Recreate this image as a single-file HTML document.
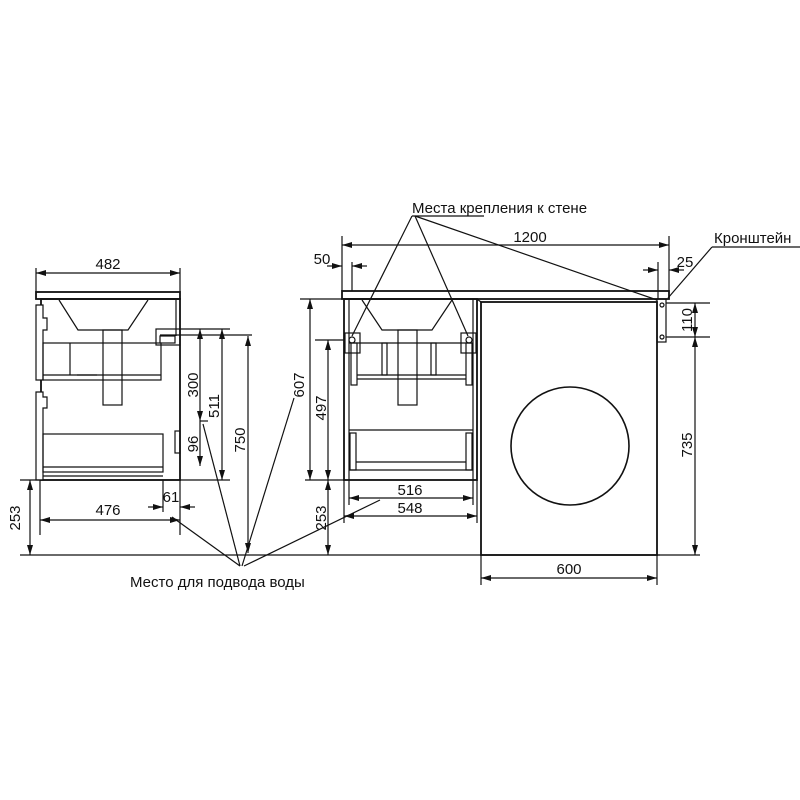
<!DOCTYPE html>
<html><head><meta charset="utf-8"><style>
html,body{margin:0;padding:0;background:#fff;}
svg{display:block}
text{font-family:"Liberation Sans","DejaVu Sans",sans-serif;font-size:15px;fill:#111}
</style></head><body>
<svg width="800" height="800" viewBox="0 0 800 800" xmlns="http://www.w3.org/2000/svg">
<defs>
<marker id="a" viewBox="0 0 10 6" refX="10" refY="3" markerWidth="10" markerHeight="6" orient="auto-start-reverse" markerUnits="userSpaceOnUse"><path d="M0,0L10,3L0,6z" fill="#111"/></marker>
</defs>
<g stroke="#111" fill="none" stroke-width="1.2">
<line x1="20" y1="555" x2="660" y2="555"/>
<!-- LEFT VIEW -->
<rect x="36" y="292" width="144" height="7" stroke-width="1.8"/>
<rect x="41" y="299" width="139" height="181" stroke-width="1.8"/>
<path d="M36,305 L43,305 L43,318 L47,318 L47,330 L43,330 L43,380 L36,380z M36,392 L43,392 L43,397 L47,397 L47,408 L43,408 L43,480 L36,480z" fill="#fff"/>
<path d="M59,300 L78,330 L128,330 L148,300"/>
<rect x="103" y="330" width="19" height="75"/>
<rect x="43" y="343" width="118" height="37"/>
<line x1="43" y1="375" x2="161" y2="375"/><line x1="70" y1="343" x2="70" y2="375"/>
<line x1="77" y1="375" x2="97" y2="375"/>
<rect x="43" y="434" width="120" height="38"/>
<line x1="43" y1="467" x2="163" y2="467"/><line x1="43" y1="476" x2="163" y2="476"/>
<rect x="156" y="329" width="24" height="16"/><rect x="160" y="336" width="15" height="7"/>
<line x1="176" y1="300" x2="176" y2="336"/>
<rect x="175" y="431" width="5" height="22"/>
<line x1="36" y1="268" x2="36" y2="292"/><line x1="180" y1="268" x2="180" y2="292"/>
<line x1="36" y1="273" x2="180" y2="273" marker-start="url(#a)" marker-end="url(#a)"/>
<line x1="180" y1="329" x2="230" y2="329"/><line x1="160" y1="335" x2="252" y2="335"/>
<line x1="200" y1="421" x2="208" y2="421"/><line x1="20" y1="480" x2="230" y2="480"/>
<line x1="200" y1="329" x2="200" y2="421" marker-start="url(#a)" marker-end="url(#a)"/>
<line x1="200" y1="466" x2="200" y2="421" marker-start="url(#a)"/>
<line x1="222" y1="329" x2="222" y2="480" marker-start="url(#a)" marker-end="url(#a)"/>
<line x1="248" y1="336" x2="248" y2="553" marker-start="url(#a)" marker-end="url(#a)"/>
<line x1="163" y1="480" x2="163" y2="512"/><line x1="180" y1="480" x2="180" y2="535"/>
<line x1="40" y1="480" x2="40" y2="535"/>
<line x1="148" y1="507" x2="163" y2="507" marker-end="url(#a)"/>
<line x1="195" y1="507" x2="180" y2="507" marker-end="url(#a)"/>
<line x1="40" y1="520" x2="180" y2="520" marker-start="url(#a)" marker-end="url(#a)"/>
<line x1="30" y1="480" x2="30" y2="555" marker-start="url(#a)" marker-end="url(#a)"/>
<!-- RIGHT VIEW -->
<rect x="342" y="291" width="327" height="8" stroke-width="1.8"/>
<rect x="344" y="299" width="133" height="181" stroke-width="1.8"/>
<line x1="349" y1="299" x2="349" y2="480"/><line x1="473" y1="299" x2="473" y2="480"/>
<path d="M362,300 L382,330 L432,330 L452,300"/>
<rect x="398" y="330" width="19" height="75"/>
<line x1="349" y1="343" x2="473" y2="343"/>
<rect x="351" y="343" width="6" height="42"/><rect x="466" y="343" width="6" height="42"/>
<rect x="382" y="343" width="5" height="32"/><rect x="431" y="343" width="5" height="32"/>
<line x1="357" y1="375" x2="466" y2="375"/><line x1="357" y1="379" x2="466" y2="379"/>
<rect x="345" y="333" width="15" height="20"/><rect x="461" y="333" width="15" height="20"/>
<circle cx="352" cy="340" r="3"/><circle cx="469" cy="340" r="3"/>
<line x1="349" y1="430" x2="473" y2="430"/>
<rect x="350" y="433" width="6" height="37"/><rect x="466" y="433" width="6" height="37"/>
<line x1="356" y1="462" x2="466" y2="462"/><line x1="349" y1="470" x2="473" y2="470"/>
<rect x="481" y="302" width="176" height="253" stroke-width="1.8"/>
<line x1="477" y1="299" x2="481" y2="302"/>
<circle cx="570" cy="446" r="59" stroke-width="1.6"/>
<rect x="657" y="299" width="9" height="43"/>
<circle cx="662" cy="305" r="2"/><circle cx="662" cy="337" r="2"/>
<line x1="342" y1="236" x2="342" y2="291"/><line x1="669" y1="236" x2="669" y2="291"/>
<line x1="342" y1="245" x2="669" y2="245" marker-start="url(#a)" marker-end="url(#a)"/>
<line x1="352" y1="262" x2="352" y2="291"/>
<line x1="327" y1="266" x2="342" y2="266" marker-end="url(#a)"/>
<line x1="367" y1="266" x2="352" y2="266" marker-end="url(#a)"/>
<line x1="658" y1="262" x2="658" y2="299"/>
<line x1="643" y1="270" x2="658" y2="270" marker-end="url(#a)"/>
<line x1="684" y1="270" x2="669" y2="270" marker-end="url(#a)"/>
<line x1="300" y1="299" x2="342" y2="299"/>
<line x1="315" y1="340" x2="345" y2="340"/>
<line x1="305" y1="480" x2="344" y2="480"/>
<line x1="310" y1="299" x2="310" y2="480" marker-start="url(#a)" marker-end="url(#a)"/>
<line x1="328" y1="340" x2="328" y2="480" marker-start="url(#a)" marker-end="url(#a)"/>
<line x1="328" y1="480" x2="328" y2="555" marker-start="url(#a)" marker-end="url(#a)"/>
<line x1="349" y1="480" x2="349" y2="505"/><line x1="473" y1="480" x2="473" y2="505"/>
<line x1="344" y1="480" x2="344" y2="523"/><line x1="477" y1="480" x2="477" y2="523"/>
<line x1="349" y1="498" x2="473" y2="498" marker-start="url(#a)" marker-end="url(#a)"/>
<line x1="344" y1="516" x2="477" y2="516" marker-start="url(#a)" marker-end="url(#a)"/>
<line x1="666" y1="303" x2="710" y2="303"/><line x1="666" y1="337" x2="710" y2="337"/>
<line x1="657" y1="555" x2="700" y2="555"/>
<line x1="695" y1="303" x2="695" y2="337" marker-start="url(#a)" marker-end="url(#a)"/>
<line x1="695" y1="337" x2="695" y2="555" marker-start="url(#a)" marker-end="url(#a)"/>
<line x1="481" y1="555" x2="481" y2="585"/><line x1="657" y1="555" x2="657" y2="585"/>
<line x1="481" y1="578" x2="657" y2="578" marker-start="url(#a)" marker-end="url(#a)"/>
<line x1="712" y1="247" x2="800" y2="247"/>
<line x1="712" y1="247" x2="668" y2="298"/>
<line x1="412" y1="216" x2="484" y2="216"/>
<line x1="412" y1="216" x2="352" y2="336"/>
<line x1="415" y1="216" x2="468" y2="336"/>
<line x1="415" y1="216" x2="657" y2="300"/>
<line x1="240" y1="566" x2="172" y2="517"/>
<line x1="240" y1="566" x2="203" y2="424"/>
<line x1="242" y1="566" x2="294" y2="398"/>
<line x1="244" y1="566" x2="380" y2="500"/>
</g>
<g>
<text x="108" y="269" text-anchor="middle">482</text>
<text x="108" y="515" text-anchor="middle">476</text>
<text x="171" y="502" text-anchor="middle">61</text>
<text transform="translate(198,385) rotate(-90)" text-anchor="middle">300</text>
<text transform="translate(198,444) rotate(-90)" text-anchor="middle">96</text>
<text transform="translate(219,406) rotate(-90)" text-anchor="middle">511</text>
<text transform="translate(245,440) rotate(-90)" text-anchor="middle">750</text>
<text transform="translate(20,518) rotate(-90)" text-anchor="middle">253</text>
<text transform="translate(304,385) rotate(-90)" text-anchor="middle">607</text>
<text transform="translate(326,408) rotate(-90)" text-anchor="middle">497</text>
<text transform="translate(326,518) rotate(-90)" text-anchor="middle">253</text>
<text transform="translate(692,320) rotate(-90)" text-anchor="middle">110</text>
<text transform="translate(692,445) rotate(-90)" text-anchor="middle">735</text>
<text x="410" y="495" text-anchor="middle">516</text>
<text x="410" y="513" text-anchor="middle">548</text>
<text x="569" y="574" text-anchor="middle">600</text>
<text x="530" y="242" text-anchor="middle">1200</text>
<text x="322" y="264" text-anchor="middle">50</text>
<text x="685" y="267" text-anchor="middle">25</text>
<text x="714" y="243">Кронштейн</text>
<text x="412" y="213">Места крепления к стене</text>
<text x="130" y="587">Место для подвода воды</text>
</g>
</svg>
</body></html>
